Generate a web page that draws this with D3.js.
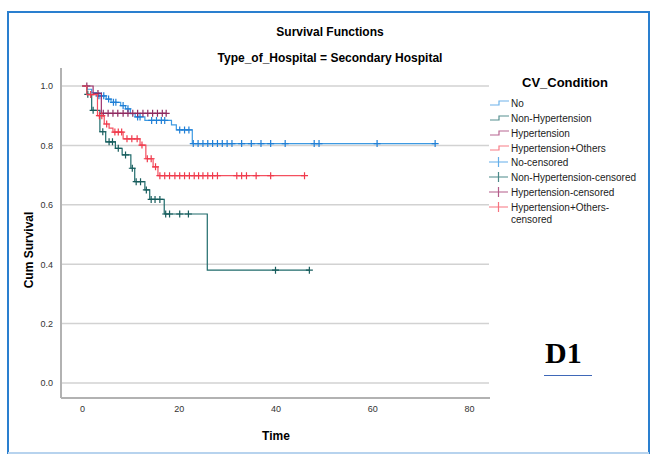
<!DOCTYPE html>
<html>
<head>
<meta charset="utf-8">
<script src="https://cdn.jsdelivr.net/npm/d3@7"></script>
<style>
  body { margin: 0; background: #fff; }
  svg { font-family: "Liberation Sans", Arial, sans-serif; display: block; }
</style>
</head>
<body>
<div id="chart"></div>
<script>
const WIDTH = 654;
const HEIGHT = 456;

// axis ticks
const timeTicks = [0, 20, 40, 60, 80];
const survTicks = [0, 0.2, 0.4, 0.6, 0.8, 1.0];

const groups = ["No", "Non-Hypertension", "Hypertension", "Hypertension+Others"];

// step curves: [time, cumulative survival after the event]
const noSteps = [[0, 1], [1, 0.989], [2, 0.978], [3, 0.967], [5, 0.956], [6, 0.945], [8, 0.934],
  [9, 0.923], [10, 0.907], [11, 0.896], [13, 0.884], [18.5, 0.869], [19.5, 0.852], [22.8, 0.806]];
const noCensored = [3.5, 4, 4.5, 5.5, 6.5, 7, 8.5, 9.5, 11.5, 12, 14.4, 15.4, 16.4, 17.1,
  20.2, 21.2, 22.1, 23, 24, 25, 26, 27, 28, 29, 30, 31, 33, 35, 37, 39, 42, 48, 49, 61, 73];

const nonHypSteps = [[0, 1], [1, 0.972], [2, 0.918], [3.7, 0.846], [4.9, 0.812], [6.9, 0.79],
  [8.3, 0.768], [10.1, 0.723], [10.9, 0.678], [13, 0.650], [14, 0.618], [17, 0.569], [25.9, 0.38]];
const nonHypCensored = [1.2, 2.3, 4.3, 5.6, 6.3, 7.5, 9, 10.4, 11.2, 12.1, 13.3, 14.3, 15.1,
  16.1, 17.3, 18.1, 20.2, 22, 40, 47];

const hypSteps = [[0, 1], [2.3, 0.975], [4, 0.908]];
const hypCensored = [1, 3.3, 4.4, 5.4, 6.4, 7.4, 8.5, 9.5, 10.5, 11.5, 12.6, 13.6, 14.6, 15.6,
  16.6, 17.4];

const hypOthSteps = [[0, 1], [1, 0.971], [3.2, 0.90], [4.6, 0.872], [5.6, 0.858], [6.4, 0.845],
  [8.5, 0.822], [12, 0.801], [13.2, 0.755], [14.7, 0.728], [15.7, 0.698]];
const hypOthCensored = [1.8, 3.6, 4.1, 5.1, 6.8, 7.5, 8.2, 9.3, 10.3, 11.4, 12.4, 13.5, 14.3,
  15.2, 16.1, 17.1, 18.1, 19.2, 20.2, 21.2, 22.2, 23.2, 24.1, 25, 26, 27, 28, 32, 33, 34, 36,
  39, 46];

const series = [
  { name: groups[0], steps: noSteps, censored: noCensored, color: "#3d9ae2", mark: "#1f7fd6" },
  { name: groups[1], steps: nonHypSteps, censored: nonHypCensored, color: "#1f6b6b", mark: "#175c5c" },
  { name: groups[2], steps: hypSteps, censored: hypCensored, color: "#a0336d", mark: "#8e2a60" },
  { name: groups[3], steps: hypOthSteps, censored: hypOthCensored, color: "#f4505f", mark: "#f03a4c" }
];

const svg = d3.select("#chart").append("svg")
  .attr("width", WIDTH)
  .attr("height", HEIGHT);

// frame round the whole output
svg.append("rect")
  .attr("x", 8).attr("y", 12)
  .attr("width", 641).attr("height", 441)
  .attr("fill", "none")
  .attr("stroke", "#2a7fcf")
  .attr("stroke-width", 2);
svg.append("line")
  .attr("x1", 8).attr("x2", 649).attr("y1", 453).attr("y2", 453)
  .attr("stroke", "#b7d3ee").attr("stroke-width", 2);

// titles
svg.append("text")
  .attr("x", 330).attr("y", 36)
  .attr("text-anchor", "middle")
  .style("font-weight", "bold").style("font-size", "12px")
  .text("Survival Functions");
svg.append("text")
  .attr("x", 330).attr("y", 62)
  .attr("text-anchor", "middle")
  .style("font-weight", "bold").style("font-size", "12px")
  .text("Type_of_Hospital = Secondary Hospital");

const xScale = d3.scaleLinear()
  .domain([-4.34, 84.34])
  .range([61, 490]);

const yScale = d3.scaleLinear()
  .domain([-0.0505, 1.0606])
  .range([398, 68]);

// gridlines
svg.append("g")
  .selectAll("line")
  .data(survTicks)
  .enter()
  .append("line")
  .attr("x1", 62).attr("x2", 489)
  .attr("y1", d => yScale(d)).attr("y2", d => yScale(d))
  .attr("stroke", "#d2d2d2")
  .attr("stroke-width", 1.5);

// axes
const yAxis = d3.axisLeft(yScale).tickValues(survTicks).tickFormat(d3.format(".1f"))
  .tickSize(0).tickPadding(8);
const gy = svg.append("g").attr("transform", "translate(61,0)").call(yAxis);

const xAxis = d3.axisBottom(xScale).tickValues(timeTicks).tickFormat(d3.format("d"))
  .tickSize(0).tickPadding(8);
const gx = svg.append("g").attr("transform", "translate(0,398)").call(xAxis);

[gx, gy].forEach(g => {
  g.select(".domain").attr("stroke", "#b2b2b2").attr("stroke-width", 2);
  g.selectAll("text").attr("fill", "#333").style("font-size", "9px");
});
gy.select(".domain").attr("d", "M0,68V398");
gx.select(".domain").attr("d", "M61,0H490");

// axis titles
svg.append("text")
  .attr("transform", "translate(33,250) rotate(-90)")
  .attr("text-anchor", "middle")
  .style("font-weight", "bold").style("font-size", "12px")
  .text("Cum Survival");
svg.append("text")
  .attr("x", 276).attr("y", 440)
  .attr("text-anchor", "middle")
  .style("font-weight", "bold").style("font-size", "12px")
  .text("Time");

// survival value at time t
function survAt(steps, t) {
  let s = steps[0][1];
  steps.forEach(p => { if (p[0] <= t) s = p[1]; });
  return s;
}

const line = d3.line()
  .x(d => xScale(d[0]))
  .y(d => yScale(d[1]))
  .curve(d3.curveStepAfter);

series.forEach(sr => {
  const end = Math.max(sr.steps[sr.steps.length - 1][0], d3.max(sr.censored));
  const pts = sr.steps.concat([[end, sr.steps[sr.steps.length - 1][1]]]);
  const g = svg.append("g");
  g.append("path")
    .attr("d", line(pts))
    .attr("fill", "none")
    .attr("stroke", sr.color)
    .attr("stroke-width", 1.2);
  g.selectAll("path.cens")
    .data(sr.censored)
    .enter()
    .append("path")
    .attr("class", "cens")
    .attr("d", t => {
      const x = xScale(t), y = yScale(survAt(sr.steps, t));
      return "M" + (x - 3.5) + "," + y + "H" + (x + 3.5) + "M" + x + "," + (y - 3.5) + "V" + (y + 3.5);
    })
    .attr("fill", "none")
    .attr("stroke", sr.mark)
    .attr("stroke-width", 1.2);
});

// legend
const legend = svg.append("g");
legend.append("text")
  .attr("x", 522).attr("y", 87)
  .style("font-weight", "bold").style("font-size", "13px")
  .text("CV_Condition");

const legendRows = [103, 118, 133, 148, 162, 177, 192, 207];
series.forEach((sr, i) => {
  const y = legendRows[i];
  legend.append("path")
    .attr("d", "M490," + (y + 2) + "H499V" + (y - 2) + "H509")
    .attr("fill", "none")
    .attr("stroke", sr.color)
    .attr("stroke-opacity", 0.75)
    .attr("stroke-width", 1.2);
  legend.append("text")
    .attr("x", 511).attr("y", y + 3.5)
    .style("font-size", "10px").attr("fill", "#222")
    .text(sr.name);
});
series.forEach((sr, i) => {
  const y = legendRows[i + 4];
  legend.append("path")
    .attr("d", "M489," + y + "H508M498.5," + (y - 5) + "V" + (y + 5))
    .attr("fill", "none")
    .attr("stroke", sr.color)
    .attr("stroke-opacity", 0.8)
    .attr("stroke-width", 1.2);
  const t = legend.append("text")
    .attr("x", 511).attr("y", y + 3.5)
    .style("font-size", "10px").attr("fill", "#222");
  if (i === 3) {
    t.append("tspan").attr("x", 511).text(sr.name + "-");
    t.append("tspan").attr("x", 511).attr("dy", 12).text("censored");
  } else {
    t.text(sr.name + "-censored");
  }
});

// panel label
svg.append("text")
  .attr("x", 545).attr("y", 363)
  .style("font-family", "'Liberation Serif', 'Times New Roman', serif")
  .style("font-weight", "bold").style("font-size", "30px")
  .text("D1");
svg.append("line")
  .attr("x1", 544).attr("x2", 592).attr("y1", 375.5).attr("y2", 375.5)
  .attr("stroke", "#3f68b8").attr("stroke-width", 1);
</script>
</body>
</html>
